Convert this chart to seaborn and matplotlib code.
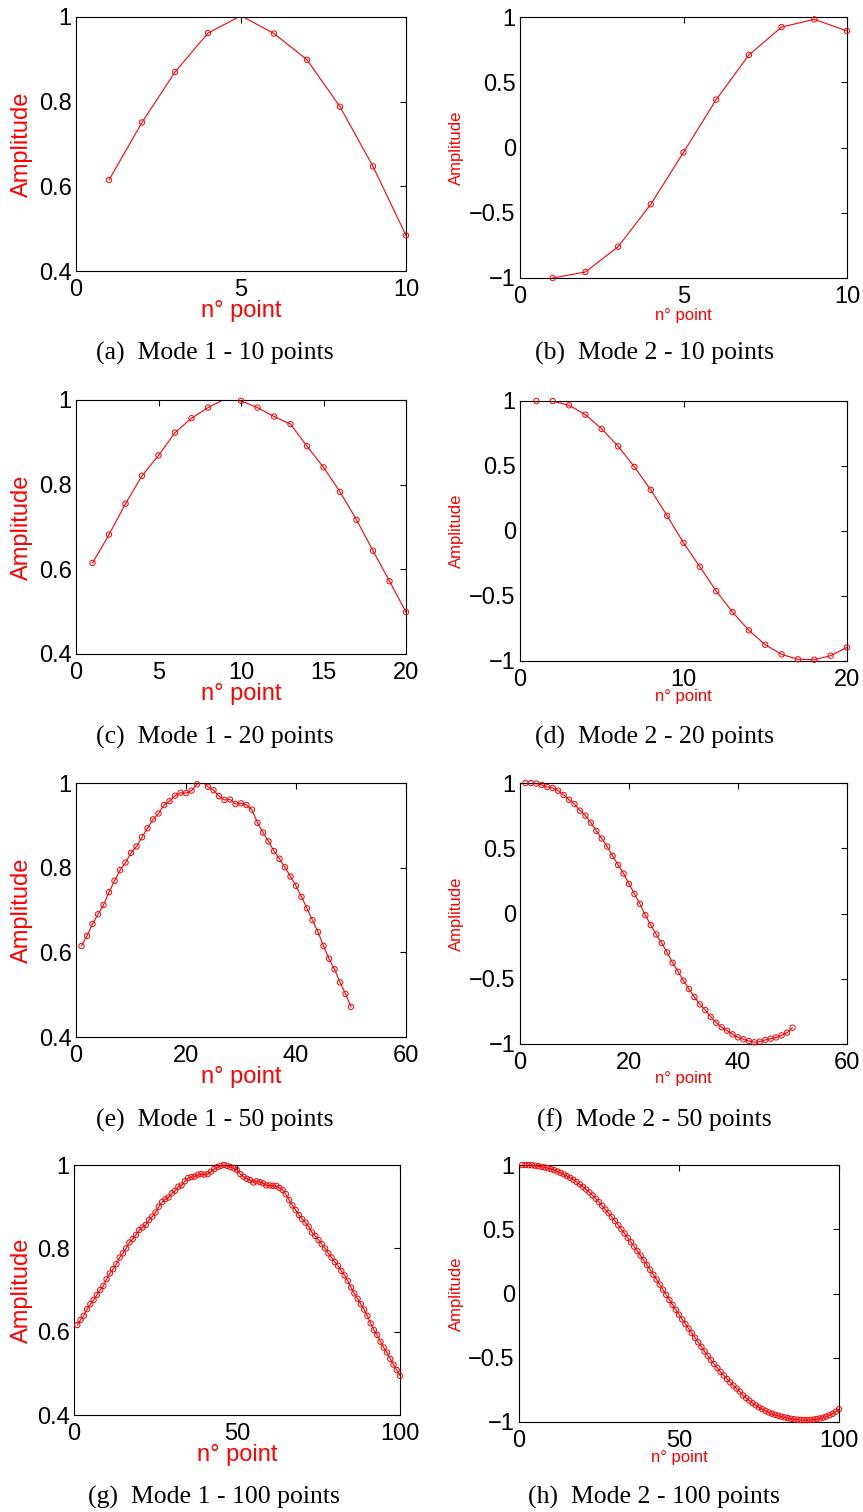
import matplotlib
matplotlib.use("Agg")
import matplotlib.pyplot as plt
import numpy as np
import pandas as pd
import seaborn as sns

# ---- data ----
mode1_10 = [0.615, 0.751, 0.870, 0.962, 1.003, 0.961, 0.899, 0.788, 0.647, 0.484]
mode2_10 = [-1.000, -0.954, -0.760, -0.435, -0.037, 0.367, 0.709, 0.923, 0.982, 0.893]

mode1_20 = [0.615, 0.682, 0.755, 0.821, 0.869, 0.923, 0.957, 0.982, 1.002, 0.998,
            0.982, 0.961, 0.943, 0.891, 0.841, 0.783, 0.717, 0.644, 0.572, 0.499]
mode2_20 = [1.000, 0.999, 0.967, 0.895, 0.785, 0.652, 0.493, 0.316, 0.117, -0.091,
            -0.275, -0.462, -0.624, -0.764, -0.875, -0.949, -0.987, -0.990, -0.959, -0.895]

mode1_50 = [0.615, 0.639, 0.667, 0.690, 0.712, 0.742, 0.769, 0.794, 0.812, 0.835,
            0.850, 0.872, 0.893, 0.914, 0.928, 0.948, 0.957, 0.970, 0.977, 0.976,
            0.982, 0.997, 1.002, 0.991, 0.983, 0.969, 0.960, 0.961, 0.950, 0.952,
            0.948, 0.937, 0.906, 0.883, 0.862, 0.839, 0.821, 0.801, 0.779, 0.757,
            0.731, 0.704, 0.676, 0.648, 0.615, 0.585, 0.560, 0.529, 0.502, 0.471]
mode2_50 = [1.000, 1.000, 0.995, 0.985, 0.969, 0.962, 0.941, 0.908, 0.872, 0.839,
            0.788, 0.750, 0.696, 0.633, 0.574, 0.513, 0.441, 0.372, 0.306, 0.227,
            0.150, 0.074, -0.013, -0.089, -0.161, -0.227, -0.298, -0.378, -0.446, -0.515,
            -0.579, -0.640, -0.696, -0.740, -0.791, -0.837, -0.872, -0.898, -0.926, -0.949,
            -0.964, -0.977, -0.987, -0.982, -0.969, -0.959, -0.949, -0.934, -0.913, -0.875]

mode1_100 = [0.616, 0.628, 0.638, 0.654, 0.666, 0.676, 0.688, 0.700, 0.710, 0.726,
             0.740, 0.750, 0.762, 0.778, 0.788, 0.800, 0.814, 0.822, 0.832, 0.844,
             0.850, 0.856, 0.868, 0.876, 0.886, 0.900, 0.911, 0.918, 0.922, 0.932,
             0.938, 0.948, 0.951, 0.961, 0.969, 0.971, 0.972, 0.977, 0.978, 0.977,
             0.978, 0.984, 0.990, 0.995, 0.998, 1.000, 0.998, 0.995, 0.992, 0.988,
             0.978, 0.972, 0.967, 0.964, 0.958, 0.961, 0.959, 0.956, 0.951, 0.951,
             0.950, 0.950, 0.945, 0.940, 0.930, 0.916, 0.903, 0.892, 0.880, 0.870,
             0.862, 0.852, 0.838, 0.830, 0.820, 0.810, 0.800, 0.788, 0.778, 0.767,
             0.758, 0.746, 0.735, 0.722, 0.706, 0.692, 0.679, 0.666, 0.653, 0.638,
             0.620, 0.604, 0.592, 0.576, 0.562, 0.550, 0.535, 0.521, 0.508, 0.494]
mode2_100 = [1.000, 1.000, 0.999, 0.998, 0.995, 0.991, 0.986, 0.981, 0.975, 0.968,
             0.960, 0.950, 0.939, 0.927, 0.914, 0.900, 0.885, 0.868, 0.850, 0.830,
             0.809, 0.787, 0.763, 0.738, 0.711, 0.683, 0.654, 0.625, 0.595, 0.564,
             0.532, 0.500, 0.467, 0.433, 0.399, 0.365, 0.330, 0.295, 0.259, 0.222,
             0.184, 0.146, 0.108, 0.069, 0.030, -0.010, -0.050, -0.089, -0.127, -0.165,
             -0.202, -0.238, -0.273, -0.308, -0.344, -0.380, -0.415, -0.451, -0.485, -0.518,
             -0.550, -0.580, -0.610, -0.638, -0.665, -0.691, -0.716, -0.740, -0.763, -0.793,
             -0.814, -0.834, -0.853, -0.870, -0.886, -0.900, -0.913, -0.925, -0.935, -0.944,
             -0.951, -0.958, -0.964, -0.970, -0.975, -0.979, -0.982, -0.984, -0.985, -0.985,
             -0.984, -0.981, -0.977, -0.972, -0.966, -0.958, -0.948, -0.936, -0.920, -0.900]

mode1_yticks = [0.4, 0.6, 0.8, 1]
mode1_yticklabels = ["0.4", "0.6", "0.8", "1"]
mode2_yticks = [-1, -0.5, 0, 0.5, 1]
mode2_yticklabels = ["\u22121", "\u22120.5", "0", "0.5", "1"]

captions = ["(a)  Mode 1 - 10 points", "(b)  Mode 2 - 10 points",
            "(c)  Mode 1 - 20 points", "(d)  Mode 2 - 20 points",
            "(e)  Mode 1 - 50 points", "(f)  Mode 2 - 50 points",
            "(g)  Mode 1 - 100 points", "(h)  Mode 2 - 100 points"]

W, H = 863, 1512
sns.set_style("white")
plt.rcParams['font.family'] = ['Liberation Sans', 'DejaVu Sans']


def px_rect(x0, y0, x1, y1):
    return [x0 / W, 1 - y1 / H, (x1 - x0) / W, (y1 - y0) / H]


# (values, xlim, xticks, mode, axes box in px, ylabel x, xlabel y, caption centre)
panels = [
    (mode1_10, 10, [0, 5, 10], 1, (76, 17, 406, 271), -0.164, -0.156, (215, 353)),
    (mode2_10, 10, [0, 5, 10], 2, (520, 17, 847, 278), -0.193, -0.142, (654, 353)),
    (mode1_20, 20, [0, 5, 10, 15, 20], 1, (76, 400, 406, 654), -0.164, -0.156, (215, 737)),
    (mode2_20, 20, [0, 10, 20], 2, (520, 401, 847, 661), -0.193, -0.138, (654, 737)),
    (mode1_50, 60, [0, 20, 40, 60], 1, (76, 783, 406, 1037), -0.164, -0.159, (215, 1120)),
    (mode2_50, 60, [0, 20, 40, 60], 2, (520, 783, 847, 1044), -0.193, -0.134, (654, 1120)),
    (mode1_100, 100, [0, 50, 100], 1, (74, 1165, 400, 1415), -0.160, -0.160, (214, 1497)),
    (mode2_100, 100, [0, 50, 100], 2, (519, 1165, 839, 1422), -0.194, -0.140, (654, 1497)),
]

fig = plt.figure(figsize=(W / 100, H / 100), dpi=100)

for k, (vals, xmax, xticks, mode, box, ylx, xly, cap) in enumerate(panels):
    ax = fig.add_axes(px_rect(*box))
    df = pd.DataFrame({"n": np.arange(1, len(vals) + 1), "amp": vals})
    if mode == 1:
        ylo, yhi = 0.4, 1
    else:
        ylo, yhi = -1, 1
    # line is clipped to the box, markers are drawn only when their centre is inside
    sns.lineplot(data=df, x="n", y="amp", ax=ax, color="red", linewidth=0.8)
    inside = df[(df["amp"] >= ylo) & (df["amp"] <= yhi)]
    sns.scatterplot(data=inside, x="n", y="amp", ax=ax, marker="o", s=15,
                    facecolors="none", edgecolor="red", linewidth=0.7,
                    clip_on=False, zorder=3)
    ax.set_xlim(0, xmax)
    ax.set_ylim(ylo, yhi)
    ax.set_xticks(xticks)
    ax.set_xticklabels([str(t) for t in xticks])
    if mode == 1:
        ax.set_yticks(mode1_yticks)
        ax.set_yticklabels(mode1_yticklabels)
        lab_size = 17
    else:
        ax.set_yticks(mode2_yticks)
        ax.set_yticklabels(mode2_yticklabels)
        lab_size = 12
    ax.set_xlabel("n\u00b0 point", color="red", fontsize=lab_size, va="center")
    ax.set_ylabel("Amplitude", color="red", fontsize=lab_size, va="center")
    ax.xaxis.set_label_coords(0.5, xly)
    ax.yaxis.set_label_coords(ylx, 0.5)
    ax.tick_params(direction="in", length=4, width=0.8, top=True, right=True,
                   labelsize=17, colors="black")
    ax.tick_params(axis="x", pad=6)
    ax.tick_params(axis="y", pad=3)
    for sp in ax.spines.values():
        sp.set_visible(True)
        sp.set_color("black")
        sp.set_linewidth(0.8)
    fig.text(cap[0] / W, 1 - cap[1] / H, captions[k], ha="center", va="center",
             fontsize=18.5, family="Liberation Serif", color="black")

plt.savefig("out.png", dpi=100)
